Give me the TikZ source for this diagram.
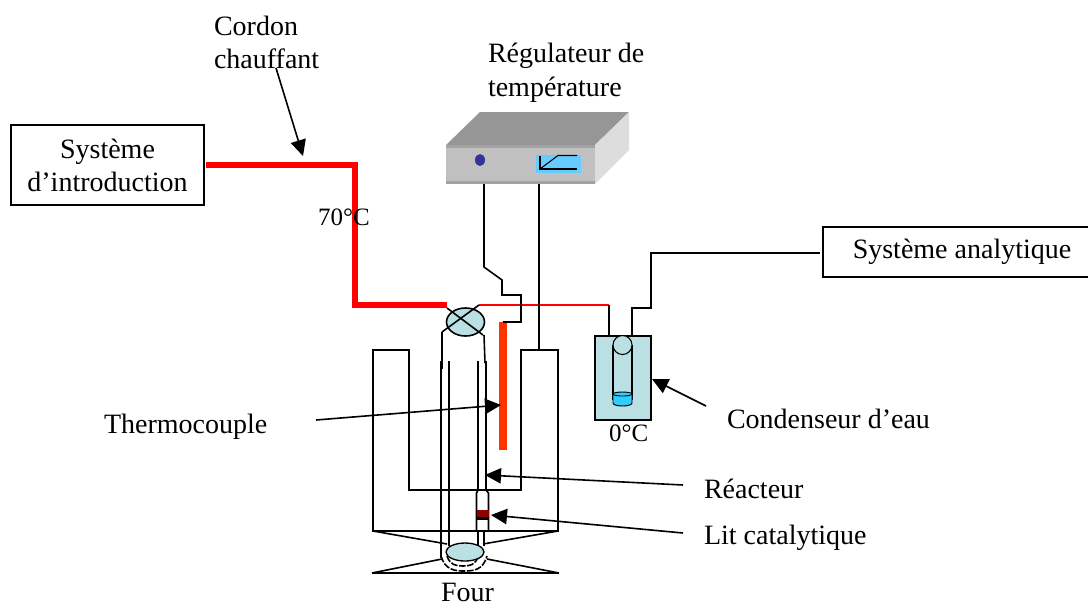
\documentclass[tikz,border=0pt]{standalone}
\usepackage{fontspec}
\setmainfont{Liberation Serif}
\usetikzlibrary{arrows.meta}
\definecolor{paleblue}{HTML}{BBE0E3}
\definecolor{waterblue}{HTML}{33CCFF}
\definecolor{screenblue}{HTML}{66CCFF}
\definecolor{heatred}{HTML}{FF0000}
\definecolor{barred}{HTML}{FF3300}
\definecolor{boxtop}{HTML}{969696}
\definecolor{boxfront}{HTML}{C0C0C0}
\definecolor{boxside}{HTML}{DDDDDD}
\definecolor{dotblue}{HTML}{333399}
\tikzset{
  wire/.style={black,line width=1.2pt,line join=miter},
  hotline/.style={heatred,line width=3.9pt,line join=miter},
  thinred/.style={heatred,line width=1pt},
  callout/.style={black,line width=1.2pt,-{Triangle[length=12pt,width=11.5pt]}},
  label/.style={inner sep=0pt,outer sep=0pt,font=\fontsize{21}{24.75}\selectfont,text=black},
  smalllabel/.style={inner sep=0pt,outer sep=0pt,font=\fontsize{18.75}{22}\selectfont,text=black},
  sysbox/.style={draw=black,line width=1.3pt,fill=white,inner sep=0pt,outer sep=0pt,align=center,font=\fontsize{21}{24.75}\selectfont},
}
\begin{document}
\begin{tikzpicture}[x=0.75pt,y=-0.75pt]
\useasboundingbox (0,0) rectangle (1088,608);
% furnace
\draw[wire] (373,531) -- (373,350) -- (409,350) -- (409,490) -- (521,490) -- (521,350) -- (558,350) -- (558,531) -- cycle;
\draw[wire] (373,531) -- (447,544);
\draw[wire] (558,531) -- (483,544);
\draw[wire] (372,573) -- (559,573);
\draw[wire] (372,573) -- (442,559);
\draw[wire] (559,573) -- (487,559);
% regulator
\fill[boxtop] (446,145) -- (480,112) -- (629,112) -- (595,145) -- cycle;
\fill[boxside] (595,145) -- (629,112) -- (629,150) -- (595,184) -- cycle;
\fill[boxfront] (446,145) rectangle (595,184);
\fill[boxtop!70!boxfront] (446,181) rectangle (595,184);
\fill[boxtop!70!boxfront] (446,145) rectangle (595,148);
\fill[dotblue] (480,160) ellipse [x radius=5,y radius=6];
\fill[screenblue] (536,155) rectangle (581,173);
\draw[black,line width=0.8pt] (540,155.5) -- (540,169) -- (577,169);
\draw[black,line width=0.8pt] (540,169) -- (558,155.5) -- (577,155.5);
% named elements
\coordinate (regA) at (484,184);
\coordinate (regB) at (539,184);
\node[sysbox,minimum width=144.75pt,minimum height=60pt] (intro) at (107.5,165) {Système\\d’introduction};
\node[sysbox,minimum width=208.5pt,minimum height=37.5pt] (ana) at (962,252) {\raisebox{-2.25pt}{Système analytique}};
% heated line
\coordinate (vIn) at (447,305);
\coordinate (vOut) at (479,305);
\coordinate (cond1) at (609,305);
\draw[hotline] (intro.east)++(2,0) -- (355,165) -- (355,305) -- (vIn);
\draw[thinred] (vOut) -- (cond1);
% thermocouple bar
\draw[barred,line width=6pt] (503,322) -- (503,450);
% regulator wires
\draw[wire] (regA) -- (484,267) -- (502,280) -- (502,295) -- (521,295) -- (521,322) -- (503,322);
\draw[wire] (regB) -- (539,350);
% condenser
\draw[wire,fill=paleblue] (595,336) rectangle (651,420);
\draw[wire,line width=0.8pt] (613,345) -- (613,400);
\draw[wire,line width=0.8pt] (632,345) -- (632,400);
\fill[waterblue,draw=black,line width=0.7pt] (613,394) -- (613,403) arc[start angle=180,end angle=0,x radius=9.5,y radius=3] -- (632,394) arc[start angle=0,end angle=-180,x radius=9.5,y radius=2] -- cycle;
\draw[black,line width=0.6pt] (613,394) arc[start angle=180,end angle=0,x radius=9.5,y radius=2];
\draw[black,line width=0.8pt,fill=paleblue] (622.5,345) circle [radius=9.5];
\draw[wire] (cond1) -- (609,336);
\draw[wire] (ana.west)++(-3,1) -- (651,253) -- (651,308) -- (632,308) -- (632,336);
% reactor tubes
\draw[wire] (442,332) -- (442,369);
\draw[wire] (484,335) -- (485,363);
\draw[wire] (441,361) -- (441,558);
\draw[wire] (449,361) -- (449,546);
\draw[black,line width=1.9pt] (478,361) -- (478,490);
\draw[wire] (486,361) -- (486,490);
\draw[wire] (478,490) -- (476.5,493) -- (476.5,531) -- (488.5,531) -- (488.5,493) -- (486,490);
\fill[black] (476.5,516) rectangle (488.5,520);
\fill[red!55!black] (476.5,510) rectangle (488.5,517);
\draw[black,line width=1.9pt] (478,531) -- (478,546);
\draw[wire] (484,531) -- (484,546);
\draw[wire,dash pattern=on 5pt off 1.2pt] (441,556) .. controls (445,570) and (455,571) .. (464,571) .. controls (474,571) and (483,570) .. (487,556);
\draw[wire,dash pattern=on 5pt off 1.2pt] (447,556) .. controls (450,565) and (456,566) .. (463,566) .. controls (470,566) and (475,565) .. (478,557);
\draw[black,line width=1pt,fill=paleblue] (465,552) ellipse [x radius=19,y radius=9];
% valve
\draw[black,line width=1.2pt,fill=paleblue] (465.5,322) ellipse [x radius=19,y radius=14];
\draw[wire] (vIn)++(0,3) -- (483,335);
\draw[wire] (vOut) -- (442,332);
% labels
\node[label,anchor=base west] (cordon) at (214,35) {Cordon};
\node[label,anchor=base west] (chauffant) at (214,68) {chauffant};
\node[label,anchor=base west] (regul) at (488,62) {Régulateur de};
\node[label,anchor=base west] (temp) at (488,96) {température};
\node[smalllabel,anchor=base west] (t70) at (318,225) {70°C};
\node[smalllabel,anchor=base west] (t0) at (609,441) {0°C};
\node[label,anchor=base west] (thermo) at (104,433) {Thermocouple};
\node[label,anchor=base west] (condeau) at (727,428) {Condenseur d’eau};
\node[label,anchor=base west] (reac) at (704,498) {Réacteur};
\node[label,anchor=base west] (lit) at (704,544) {Lit catalytique};
\node[label,anchor=base west] (four) at (441,601) {Four};
% callouts
\coordinate (cordonStart) at (276,68);
\coordinate (cordonTip) at (303,156);
\coordinate (thermoStart) at (316,420);
\coordinate (thermoTip) at (501,405);
\coordinate (condStart) at (706,406);
\coordinate (condTip) at (652,379);
\coordinate (reacStart) at (683,485);
\coordinate (reacTip) at (485,475);
\coordinate (litStart) at (683,533);
\coordinate (litTip) at (491,515);
\draw[callout] (cordonStart) -- (cordonTip);
\draw[callout] (thermoStart) -- (thermoTip);
\draw[callout] (condStart) -- (condTip);
\draw[callout] (reacStart) -- (reacTip);
\draw[callout] (litStart) -- (litTip);
\end{tikzpicture}
\end{document}
